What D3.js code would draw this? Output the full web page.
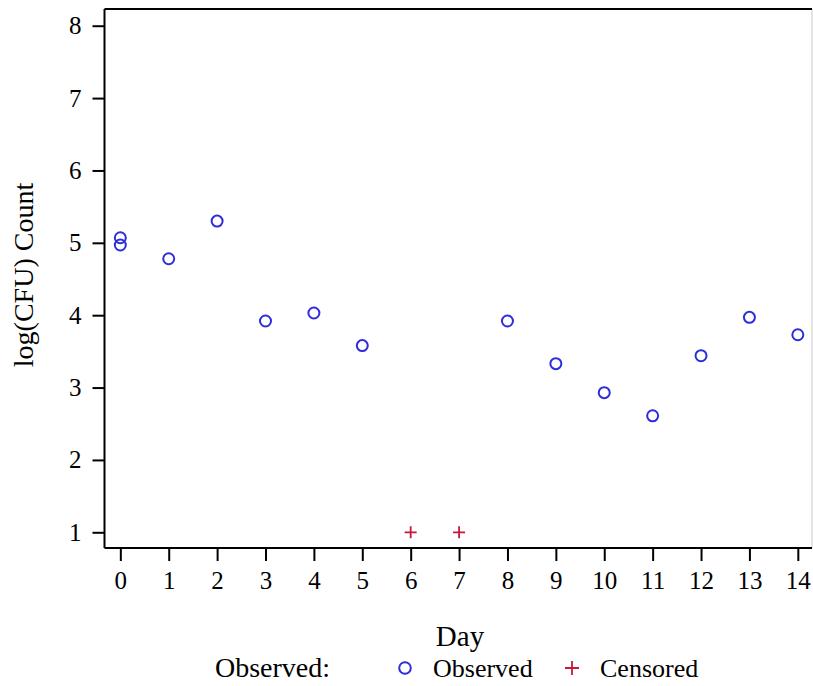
<!DOCTYPE html>
<html><head><meta charset="utf-8">
<script src="https://cdn.jsdelivr.net/npm/d3@7"></script>
<style>body{margin:0;background:#fff}svg text{font-family:"Liberation Serif","Times New Roman",serif;fill:#000}</style>
</head><body><svg id="c" width="813" height="686"></svg>
<script>
const obsDays = [0, 0, 1, 2, 3, 4, 5, 8, 9, 10, 11, 12, 13, 14];
const obsValues = [5.07, 4.97, 4.78, 5.30, 3.92, 4.03, 3.58, 3.92, 3.33, 2.93, 2.61, 3.44, 3.97, 3.73];
const censDays = [6, 7];
const censValues = [1, 1];
const xTicks = d3.range(0, 15);
const yTicks = [1, 2, 3, 4, 5, 6, 7, 8];

const svg = d3.select("#c");
const L = 104.5, R = 812, T = 9, B = 548;
const x = d3.scaleLinear().domain([-0.327, 14.293]).range([L, R]);
const y = d3.scaleLinear().domain([0.783, 8.231]).range([B, T]);
const blue = "#2d2ddb", red = "#c8173a";

// frame
svg.append("line").attr("x1", R).attr("x2", R).attr("y1", T).attr("y2", B).attr("stroke", "#c8c8c8").attr("stroke-width", 1);
svg.append("line").attr("x1", L).attr("x2", R).attr("y1", T).attr("y2", T).attr("stroke", "#000").attr("stroke-width", 2);

const ya = svg.append("g").attr("transform", `translate(${L},0)`)
  .call(d3.axisLeft(y).tickValues(yTicks).tickSize(12).tickPadding(11).tickFormat(d3.format("d")));
const xa = svg.append("g").attr("transform", `translate(0,${B})`)
  .call(d3.axisBottom(x).tickValues(xTicks).tickSize(13).tickPadding(10).tickFormat(d3.format("d")));
[ya, xa].forEach(g => {
  g.attr("font-size", null).attr("font-family", null);
  g.select(".domain").attr("stroke", "#000").attr("stroke-width", 2);
  g.selectAll(".tick line").attr("stroke", "#000").attr("stroke-width", 2);
  g.selectAll(".tick text").style("font-size", "25px");
});
ya.select(".domain").attr("d", `M0,${T}V${B}`);
xa.select(".domain").attr("d", `M${L},0H${R}`);

// labels
svg.append("text").attr("x", 460).attr("y", 646).attr("text-anchor", "middle").style("font-size", "29px").text("Day");
svg.append("text").attr("transform", `translate(33,275) rotate(-90)`).attr("text-anchor", "middle").style("font-size", "28px").text("log(CFU) Count");

// points
svg.append("g").selectAll("circle").data(obsDays.map((d, i) => [d, obsValues[i]])).join("circle")
  .attr("cx", d => x(d[0])).attr("cy", d => y(d[1])).attr("r", 5.5)
  .attr("fill", "none").attr("stroke", blue).attr("stroke-width", 2);
svg.append("g").selectAll("path").data(censDays.map((d, i) => [d, censValues[i]])).join("path")
  .attr("transform", d => `translate(${x(d[0])},${y(d[1])})`)
  .attr("d", "M-6,0H6M0,-6V6").attr("stroke", red).attr("stroke-width", 1.8).attr("fill", "none");

// legend
const ly = 677;
svg.append("text").attr("x", 215).attr("y", ly).style("font-size", "28px").text("Observed:");
svg.append("circle").attr("cx", 405).attr("cy", 668).attr("r", 5.8).attr("fill", "none").attr("stroke", blue).attr("stroke-width", 2);
svg.append("text").attr("x", 433).attr("y", ly).style("font-size", "26px").text("Observed");
svg.append("path").attr("transform", "translate(572,668)").attr("d", "M-7,0H7M0,-7V7").attr("stroke", red).attr("stroke-width", 1.8);
svg.append("text").attr("x", 600).attr("y", ly).style("font-size", "26px").text("Censored");
</script></body></html>
